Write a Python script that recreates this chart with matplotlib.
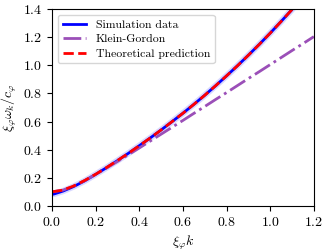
import numpy as np
import matplotlib
matplotlib.use("Agg")
import matplotlib.pyplot as plt

plt.rcParams['font.family'] = 'serif'
plt.rcParams['font.serif'] = ['cmr10']
plt.rcParams['mathtext.fontset'] = 'cm'
plt.rcParams['axes.formatter.use_mathtext'] = True
plt.rcParams['font.size'] = 10

# wavenumber xi*k
k_vals = [0.0, 0.05, 0.1, 0.15, 0.2, 0.25, 0.3, 0.35, 0.4, 0.45, 0.5, 0.55,
          0.6, 0.65, 0.7, 0.75, 0.8, 0.85, 0.9, 0.95, 1.0, 1.05, 1.1, 1.15, 1.2]

# simulation data (stops at top of the axes)
sim_k = [0.01, 0.05, 0.1, 0.15, 0.2, 0.25, 0.3, 0.35, 0.4, 0.45, 0.5, 0.55,
         0.6, 0.65, 0.7, 0.75, 0.8, 0.85, 0.9, 0.95, 1.0, 1.05, 1.1, 1.15]
sim_w = [0.085, 0.105, 0.138, 0.178, 0.224, 0.272, 0.322, 0.374, 0.428, 0.483,
         0.540, 0.599, 0.659, 0.722, 0.787, 0.855, 0.925, 0.997, 1.072, 1.149,
         1.229, 1.312, 1.397, 1.486]

# Klein-Gordon dispersion
kg_w = [0.100, 0.112, 0.141, 0.180, 0.224, 0.269, 0.316, 0.364, 0.412, 0.461,
        0.510, 0.559, 0.608, 0.658, 0.707, 0.757, 0.806, 0.856, 0.906, 0.955,
        1.005, 1.055, 1.105, 1.154, 1.204]

# theoretical prediction
th_w = [0.100, 0.112, 0.142, 0.181, 0.225, 0.273, 0.323, 0.374, 0.428, 0.483,
        0.540, 0.599, 0.659, 0.722, 0.787, 0.855, 0.925, 0.997, 1.072, 1.149,
        1.229, 1.312, 1.397, 1.486, 1.577]

fig = plt.figure(figsize=(3.29, 2.52), dpi=100)
ax = fig.add_axes([0.158, 0.183, 0.796, 0.781])

# pale halo around simulation curve
ax.plot(sim_k, sim_w, color='#8080ff', lw=4.5, alpha=0.3, solid_capstyle='round')
ax.plot(sim_k, sim_w, color='b', lw=2, label='Simulation data')
ax.plot(k_vals, kg_w, color='#9b4fb8', lw=2, ls='-.', label='Klein-Gordon')
ax.plot(k_vals, th_w, color='r', lw=2, ls='--', label='Theoretical prediction')

ax.set_xlim(0, 1.2)
ax.set_ylim(0, 1.4)
ax.set_xticks([0.0, 0.2, 0.4, 0.6, 0.8, 1.0, 1.2])
ax.set_yticks([0.0, 0.2, 0.4, 0.6, 0.8, 1.0, 1.2, 1.4])
ax.set_xlabel(r'$\xi_\varphi k$')
ax.set_ylabel(r'$\xi_\varphi\omega_k/c_\varphi$', labelpad=3)
ax.legend(loc='upper left', fontsize=8.5, labelspacing=0.35,
          handlelength=2.0, borderaxespad=0.5)

fig.savefig('out.png', dpi=100)
